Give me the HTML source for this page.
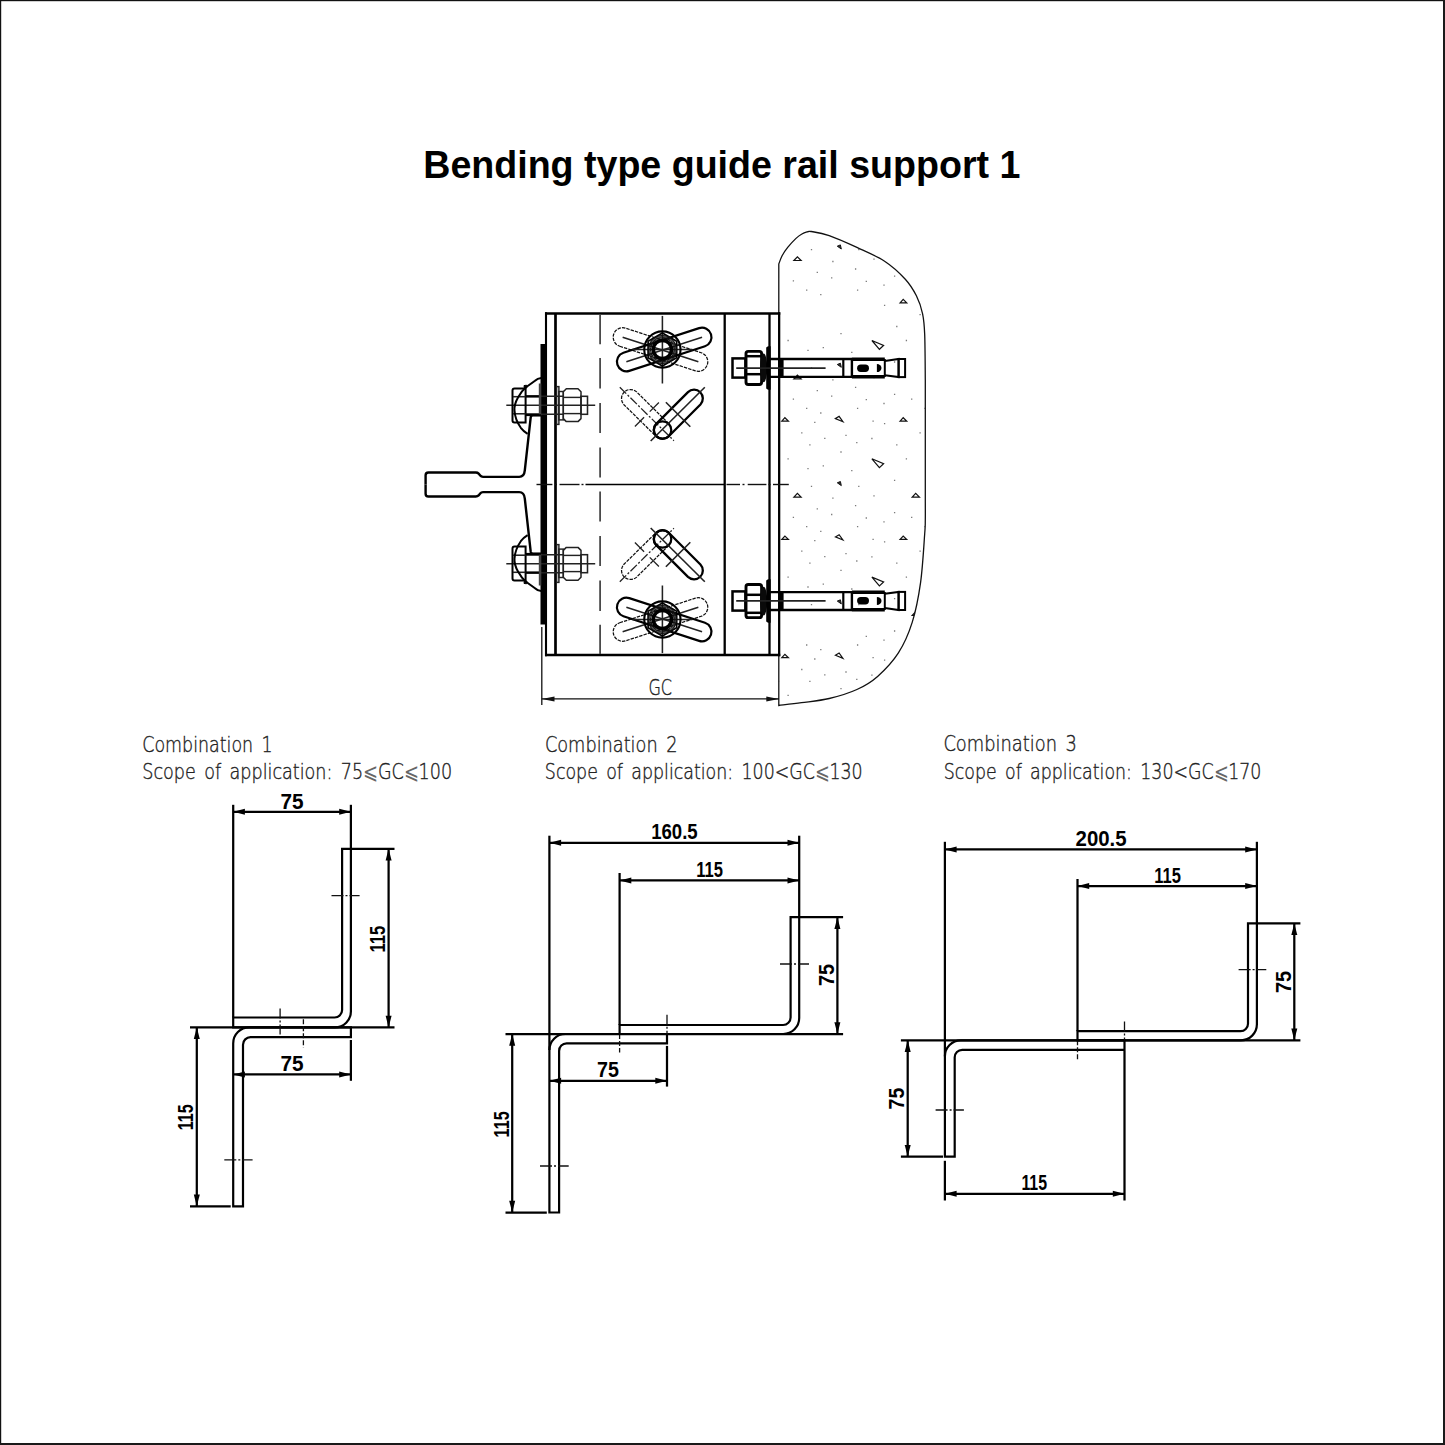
<!DOCTYPE html>
<html lang="en"><head><meta charset="utf-8"><title>Bending type guide rail support 1</title>
<style>html,body{margin:0;padding:0;background:#fff}body{width:1445px;height:1445px;overflow:hidden}svg{display:block}</style>
</head><body>
<svg width="1445" height="1445" viewBox="0 0 1445 1445">
<rect x="0" y="0" width="1445" height="1445" fill="#fff"/>
<rect x="0" y="0" width="1445" height="1.2" fill="#111"/><rect x="0" y="0" width="1.2" height="1445" fill="#111"/>
<rect x="1443" y="0" width="2" height="1445" fill="#1a1a1a"/><rect x="0" y="1443" width="1445" height="2" fill="#1a1a1a"/>
<text x="423.27" y="177.7" font-family="Liberation Sans, Arial, sans-serif" font-size="39" font-weight="bold" fill="#000" textLength="597.11" lengthAdjust="spacingAndGlyphs">Bending type guide rail support 1</text>
<clipPath id="cc"><path d="M778.8,705.5 L778.8,264 C779.35,262.62 780.62,258.47 782.1,255.7 C783.58,252.93 785.38,250.28 787.7,247.4 C790.02,244.52 793.7,240.6 796,238.4 C798.3,236.2 799.67,235.28 801.5,234.2 C803.33,233.12 805.38,232.35 807,231.9 C808.62,231.45 807.5,230.88 811.2,231.5 C814.9,232.12 821.58,232.95 829.2,235.6 C836.82,238.25 847.67,243.13 856.9,247.4 C866.13,251.67 876.53,255.9 884.6,261.2 C892.67,266.5 900,273.43 905.3,279.2 C910.6,284.97 913.52,290.03 916.4,295.8 C919.28,301.57 921.22,307.33 922.6,313.8 C923.98,320.27 924.25,323.57 924.7,334.6 C925.15,345.63 925.2,372.43 925.3,380 L925.3,500 C925.3,503.33 925.4,514.37 925.3,520 C925.2,525.63 925.48,523.42 924.7,533.8 C923.92,544.18 922.68,567.53 920.6,582.3 C918.52,597.07 915.9,610.63 912.2,622.4 C908.5,634.17 904.17,643.9 898.4,652.9 C892.63,661.9 884.52,670.3 877.6,676.4 C870.68,682.5 864.97,685.82 856.9,689.5 C848.83,693.18 838.43,696.3 829.2,698.5 C819.97,700.7 809.9,701.53 801.5,702.7 C793.1,703.87 782.58,705.03 778.8,705.5 Z"/></clipPath>
<g clip-path="url(#cc)">
<path d="M775.65,243.7h1.3 M775.65,276.1h1.3 M775.65,362h1.3 M775.65,394.4h1.3 M777.85,444.8h1.3 M775.65,480.3h1.3 M775.65,512.7h1.3 M777.85,563.1h1.3 M775.65,598.6h1.3 M777.85,681.4h1.3 M807.35,232.1h1.3 M822.65,229.3h1.3 M851.15,234.1h1.3 M893.95,243.7h1.3 M810.85,249.7h1.3 M858.15,249.7h1.3 M832.25,261.5h1.3 M873.35,259.2h1.3 M854.95,269h1.3 M816.65,272.3h1.3 M893.95,276.1h1.3 M831.05,277.9h1.3 M792.75,280.8h1.3 M865.65,281.4h1.3 M883.35,285.2h1.3 M806.05,290.1h1.3 M856.95,290.1h1.3 M820.15,294.7h1.3 M883.95,305.3h1.3 M896.15,326.5h1.3 M840.35,333.7h1.3 M787.45,340.5h1.3 M807.35,350.4h1.3 M822.65,347.6h1.3 M851.15,352.4h1.3 M893.95,362h1.3 M810.85,368h1.3 M858.15,368h1.3 M832.25,379.8h1.3 M873.35,377.5h1.3 M854.95,387.3h1.3 M816.65,390.6h1.3 M893.95,394.4h1.3 M831.05,396.2h1.3 M792.75,399.1h1.3 M865.65,399.7h1.3 M883.35,403.5h1.3 M806.05,408.4h1.3 M856.95,408.4h1.3 M820.15,413h1.3 M814.15,422.4h1.3 M872.45,421.1h1.3 M883.95,423.6h1.3 M801.15,432.9h1.3 M824.15,438.3h1.3 M845.35,435.4h1.3 M871.25,438.5h1.3 M809.25,444.8h1.3 M856.15,442.7h1.3 M896.15,444.8h1.3 M840.35,452h1.3 M787.45,458.8h1.3 M807.35,468.7h1.3 M822.65,465.9h1.3 M851.15,470.7h1.3 M893.95,480.3h1.3 M810.85,486.3h1.3 M858.15,486.3h1.3 M832.25,498.1h1.3 M873.35,495.8h1.3 M854.95,505.6h1.3 M816.65,508.9h1.3 M893.95,512.7h1.3 M831.05,514.5h1.3 M792.75,517.4h1.3 M865.65,518h1.3 M883.35,521.8h1.3 M806.05,526.7h1.3 M856.95,526.7h1.3 M820.15,531.3h1.3 M814.15,540.7h1.3 M872.45,539.4h1.3 M883.95,541.9h1.3 M801.15,551.2h1.3 M824.15,556.6h1.3 M845.35,553.7h1.3 M871.25,556.8h1.3 M809.25,563.1h1.3 M856.15,561h1.3 M896.15,563.1h1.3 M840.35,570.3h1.3 M787.45,577.1h1.3 M807.35,587h1.3 M822.65,584.2h1.3 M851.15,589h1.3 M893.95,598.6h1.3 M810.85,604.6h1.3 M858.15,604.6h1.3 M893.95,631h1.3 M865.65,636.3h1.3 M883.35,640.1h1.3 M806.05,645h1.3 M856.95,645h1.3 M820.15,649.6h1.3 M814.15,659h1.3 M872.45,657.7h1.3 M883.95,660.2h1.3 M801.15,669.5h1.3 M824.15,674.9h1.3 M845.35,672h1.3 M871.25,675.1h1.3 M809.25,681.4h1.3 M856.15,679.3h1.3 M896.15,681.4h1.3 M840.35,688.6h1.3 M787.45,695.4h1.3 M807.35,705.3h1.3 M822.65,702.5h1.3 M851.15,707.3h1.3 M925.65,232.1h1.3 M911.05,280.8h1.3 M924.35,290.1h1.3 M919.45,314.6h1.3 M905.75,340.5h1.3 M925.65,350.4h1.3 M911.05,399.1h1.3 M924.35,408.4h1.3 M919.45,432.9h1.3 M905.75,458.8h1.3 M925.65,468.7h1.3 M911.05,517.4h1.3 M924.35,526.7h1.3 M919.45,551.2h1.3 M905.75,577.1h1.3 M925.65,587h1.3 M911.05,635.7h1.3 M924.35,645h1.3 M919.45,669.5h1.3 M905.75,695.4h1.3 M925.65,705.3h1.3" stroke="#7a7a7a" stroke-width="1.3" fill="none"/>
<path d="M781.8,421.1 L784.9,417.7 L788.4,421.1 Z M900.1,421.1 L903.2,417.7 L906.7,421.1 Z M781.8,539.4 L784.9,536 L788.4,539.4 Z M900.1,539.4 L903.2,536 L906.7,539.4 Z M781.8,657.7 L784.9,654.3 L788.4,657.7 Z M900.1,302.8 L903.2,299.4 L906.7,302.8 Z M835.4,418.6 L839.1,416.4 L842.9,421.7 Z M835.4,536.9 L839.1,534.7 L842.9,540 Z M835.4,655.2 L839.1,653 L842.9,658.3 Z M871.9,340.5 L883.6,345.4 L879.4,349.3 Z M871.9,458.8 L883.6,463.7 L879.4,467.6 Z M871.9,577.1 L883.6,582 L879.4,585.9 Z M793.9,260.5 L797.4,256.8 L801.1,260.5 Z M793.9,378.8 L797.4,375.1 L801.1,378.8 Z M793.9,497.1 L797.4,493.4 L801.1,497.1 Z M912.2,497.1 L915.7,493.4 L919.4,497.1 Z M912.2,615.4 L915.7,611.7 L919.4,615.4 Z" stroke="#111" stroke-width="1.2" fill="none" stroke-linejoin="miter"/>
<path d="M837.3,246.2 L840.4,244.9 L841.3,249 Z M837.3,364.5 L840.4,363.2 L841.3,367.3 Z M837.3,482.8 L840.4,481.5 L841.3,485.6 Z M837.3,601.1 L840.4,599.8 L841.3,603.9 Z" stroke="#111" stroke-width="1" fill="#333"/>
</g>
<path d="M778.8,705.5 L778.8,264 C779.35,262.62 780.62,258.47 782.1,255.7 C783.58,252.93 785.38,250.28 787.7,247.4 C790.02,244.52 793.7,240.6 796,238.4 C798.3,236.2 799.67,235.28 801.5,234.2 C803.33,233.12 805.38,232.35 807,231.9 C808.62,231.45 807.5,230.88 811.2,231.5 C814.9,232.12 821.58,232.95 829.2,235.6 C836.82,238.25 847.67,243.13 856.9,247.4 C866.13,251.67 876.53,255.9 884.6,261.2 C892.67,266.5 900,273.43 905.3,279.2 C910.6,284.97 913.52,290.03 916.4,295.8 C919.28,301.57 921.22,307.33 922.6,313.8 C923.98,320.27 924.25,323.57 924.7,334.6 C925.15,345.63 925.2,372.43 925.3,380 L925.3,500 C925.3,503.33 925.4,514.37 925.3,520 C925.2,525.63 925.48,523.42 924.7,533.8 C923.92,544.18 922.68,567.53 920.6,582.3 C918.52,597.07 915.9,610.63 912.2,622.4 C908.5,634.17 904.17,643.9 898.4,652.9 C892.63,661.9 884.52,670.3 877.6,676.4 C870.68,682.5 864.97,685.82 856.9,689.5 C848.83,693.18 838.43,696.3 829.2,698.5 C819.97,700.7 809.9,701.53 801.5,702.7 C793.1,703.87 782.58,705.03 778.8,705.5 Z" fill="none" stroke="#111" stroke-width="1.3"/>
<line x1="546" y1="312.3" x2="546" y2="656.2" stroke="#000" stroke-width="2.1"/>
<line x1="545" y1="313.5" x2="780.3" y2="313.5" stroke="#000" stroke-width="2.6"/>
<line x1="545" y1="655" x2="780.3" y2="655" stroke="#000" stroke-width="2.6"/>
<line x1="779.2" y1="312.3" x2="779.2" y2="656.2" stroke="#000" stroke-width="2.2"/>
<rect x="540.5" y="344" width="6.5" height="280.5" rx="0" fill="#000" stroke="none" stroke-width="0"/>
<line x1="555.5" y1="313.5" x2="555.5" y2="655" stroke="#000" stroke-width="2.7"/>
<line x1="724.7" y1="313.5" x2="724.7" y2="655" stroke="#000" stroke-width="2.3"/>
<line x1="769.5" y1="313.5" x2="769.5" y2="655" stroke="#000" stroke-width="2.3"/>
<line x1="600.1" y1="315" x2="600.1" y2="344.3" stroke="#4a4a4a" stroke-width="1.8"/>
<line x1="600.1" y1="624.7" x2="600.1" y2="654" stroke="#4a4a4a" stroke-width="1.8"/>
<line x1="600.1" y1="358.1" x2="600.1" y2="388.6" stroke="#4a4a4a" stroke-width="1.8"/>
<line x1="600.1" y1="580.4" x2="600.1" y2="610.9" stroke="#4a4a4a" stroke-width="1.8"/>
<line x1="600.1" y1="403.1" x2="600.1" y2="432.9" stroke="#4a4a4a" stroke-width="1.8"/>
<line x1="600.1" y1="536.1" x2="600.1" y2="565.9" stroke="#4a4a4a" stroke-width="1.8"/>
<line x1="600.1" y1="447.4" x2="600.1" y2="477.4" stroke="#4a4a4a" stroke-width="1.8"/>
<line x1="600.1" y1="491.6" x2="600.1" y2="521.6" stroke="#4a4a4a" stroke-width="1.8"/>
<line x1="536.5" y1="484.5" x2="552.4" y2="484.5" stroke="#111" stroke-width="1.4"/>
<line x1="555" y1="484.5" x2="557" y2="484.5" stroke="#111" stroke-width="1.4"/>
<line x1="559.5" y1="484.5" x2="579.5" y2="484.5" stroke="#111" stroke-width="1.4"/>
<line x1="581.5" y1="484.5" x2="583.5" y2="484.5" stroke="#111" stroke-width="1.4"/>
<line x1="585.5" y1="484.5" x2="724.7" y2="484.5" stroke="#000" stroke-width="1.6"/>
<line x1="726.5" y1="484.5" x2="740" y2="484.5" stroke="#111" stroke-width="1.4"/>
<line x1="742.5" y1="484.5" x2="744.5" y2="484.5" stroke="#111" stroke-width="1.4"/>
<line x1="747.7" y1="484.5" x2="766.4" y2="484.5" stroke="#111" stroke-width="1.4"/>
<line x1="768.5" y1="484.5" x2="770.5" y2="484.5" stroke="#111" stroke-width="1.4"/>
<line x1="773" y1="484.5" x2="788.8" y2="484.5" stroke="#111" stroke-width="1.4"/>
<g><line x1="506.3" y1="405.3" x2="595.2" y2="405.3" stroke="#222" stroke-width="1.6"/>
<path d="M525.6,388.4 L514.5,388.4 Q512.5,388.4 512.5,390.4 L512.5,420.6 Q512.5,422.6 514.5,422.6 L525.6,422.6 Z" fill="none" stroke="#000" stroke-width="2"/>
<line x1="513" y1="396.7" x2="525.6" y2="396.7" stroke="#222" stroke-width="1.55"/>
<line x1="513" y1="413.8" x2="525.6" y2="413.8" stroke="#222" stroke-width="1.55"/>
<line x1="525.6" y1="396.2" x2="563.3" y2="396.2" stroke="#222" stroke-width="1.5"/>
<line x1="525.6" y1="414.3" x2="563.3" y2="414.3" stroke="#222" stroke-width="1.5"/>
<line x1="525.6" y1="396.4" x2="539" y2="396.4" stroke="#000" stroke-width="2.4"/>
<line x1="525.6" y1="414.8" x2="541" y2="414.8" stroke="#000" stroke-width="2.6"/>
<rect x="538.8" y="383.5" width="2.5" height="31.9" rx="0" fill="#444" stroke="none" stroke-width="0"/>
<path d="M541.2,378 Q537.5,378.3 535,380.8 L526,387.3 Q521.5,391 518,397.5 Q514,404.5 514.5,410.5 Q515,419.5 520.8,427.8 Q523.5,431.3 527.6,433.8" fill="none" stroke="#000" stroke-width="2"/>
<path d="M524,385.6 L526.5,385.2 L527,387.6 L524.4,388.4 Z" fill="#000" stroke="#000" stroke-width="1"/>
<rect x="556.6" y="386.6" width="2.3" height="37.8" rx="0" fill="none" stroke="#222" stroke-width="1.45"/>
<rect x="558.9" y="391.5" width="4.4" height="28.4" rx="0" fill="none" stroke="#222" stroke-width="1.45"/>
<path d="M566.3,388.7 L578,388.7 L581,391.7 L581,418.6 L578,421.6 L566.3,421.6 L563.3,418.6 L563.3,391.7 Z" fill="none" stroke="#222" stroke-width="1.5" stroke-linejoin="round"/>
<line x1="563.3" y1="397.4" x2="581" y2="397.4" stroke="#222" stroke-width="1.45"/>
<line x1="563.3" y1="413.6" x2="581" y2="413.6" stroke="#222" stroke-width="1.45"/>
<rect x="581" y="396.3" width="6.5" height="18" rx="0" fill="none" stroke="#222" stroke-width="1.55"/>
<path d="M541,415.4 L533,415.4 Q531,415.4 530.7,417.3 L524.8,470.4 Q524.2,476.9 519.2,476.9 L483,476.9 Q481.2,476.9 480.2,475.6 L478.6,473.6 Q477.6,472.5 475.8,472.5 L428.4,472.5 Q425.6,472.5 425.6,475.3 L425.6,484.6" fill="none" stroke="#000" stroke-width="2.4"/>
<path d="M619.71,346.24 L695.42,370.83 A9.5,9.5 0 0 0 701.29,352.76 L625.58,328.17 A9.5,9.5 0 0 0 619.71,346.24 Z" fill="none" stroke="#111" stroke-width="1.25" stroke-dasharray="3.4 1.1"/>
<line x1="622.65" y1="337.2" x2="698.35" y2="361.8" stroke="#222" stroke-width="1.6"/>
<path d="M629.28,370.83 L704.99,346.24 A9.5,9.5 0 0 0 699.12,328.17 L623.41,352.76 A9.5,9.5 0 0 0 629.28,370.83 Z" fill="none" stroke="#000" stroke-width="2.2"/>
<line x1="626.35" y1="361.8" x2="702.05" y2="337.2" stroke="#222" stroke-width="1.6"/>
<line x1="662.4" y1="315.9" x2="662.4" y2="383.5" stroke="#222" stroke-width="1.55"/>
<line x1="632.4" y1="349.5" x2="692.4" y2="349.5" stroke="#222" stroke-width="1.6"/>
<circle cx="662.4" cy="349.5" r="18.15" fill="none" stroke="#000" stroke-width="2.1"/>
<polygon points="662.4,366 648.11,357.75 648.11,341.25 662.4,333 676.69,341.25 676.69,357.75" fill="none" stroke="#000" stroke-width="1.7"/>
<circle cx="662.4" cy="349.5" r="14" fill="none" stroke="#111" stroke-width="1.2"/>
<circle cx="662.4" cy="349.5" r="11.8" fill="none" stroke="#111" stroke-width="1.1" stroke-dasharray="3.5 1.5"/>
<circle cx="662.4" cy="349.5" r="12.4" fill="none" stroke="#111" stroke-width="2.6" stroke-opacity="0.7"/>
<circle cx="662.4" cy="349.5" r="9.1" fill="none" stroke="#000" stroke-width="3.6"/>
<path d="M668.82,423.7 L636.62,391.9 A9,9 0 0 0 623.98,404.7 L656.18,436.5 A9,9 0 0 0 668.82,423.7 Z" fill="none" stroke="#111" stroke-width="1.25" stroke-dasharray="3.4 1.1"/>
<line x1="619.8" y1="387.3" x2="673.9" y2="440.7" stroke="#222" stroke-width="1.3" stroke-dasharray="9 2 2 2"/>
<line x1="634.9" y1="426.5" x2="658.9" y2="402.5" stroke="#222" stroke-width="1.3" stroke-dasharray="13 8 13"/>
<path d="M668.73,436.31 L700.43,404.51 A8.8,8.8 0 0 0 687.97,392.09 L656.27,423.89 A8.8,8.8 0 0 0 668.73,436.31 Z" fill="none" stroke="#000" stroke-width="2.3"/>
<circle cx="662.5" cy="430.1" r="8.8" fill="none" stroke="#000" stroke-width="2.2"/>
<line x1="650.7" y1="441" x2="704.8" y2="387.3" stroke="#222" stroke-width="1.6"/>
<line x1="665.9" y1="402.3" x2="690.3" y2="426.7" stroke="#222" stroke-width="1.6"/>
<rect x="732.5" y="358.4" width="12.9" height="19.2" rx="0" fill="none" stroke="#000" stroke-width="2.5"/>
<rect x="746" y="351.4" width="15.6" height="33.1" rx="2.2" fill="none" stroke="#000" stroke-width="2.9"/>
<line x1="746" y1="356.2" x2="761.6" y2="356.2" stroke="#000" stroke-width="2.5"/>
<line x1="746" y1="374.2" x2="761.6" y2="374.2" stroke="#000" stroke-width="2.5"/>
<ellipse cx="763.6" cy="367.9" rx="3.6" ry="14.4" fill="#0a0a0a"/>
<path d="M766.2,347.5 L768,346.2 L770.7,346.2 L770.7,389.8 L768,389.8 L766.2,388.5 Z" fill="#000" stroke="none" stroke-width="0"/>
<line x1="770" y1="359" x2="852" y2="359" stroke="#000" stroke-width="2.4"/>
<line x1="770" y1="376.9" x2="852" y2="376.9" stroke="#000" stroke-width="2.4"/>
<rect x="778.3" y="359" width="5.3" height="18" rx="0" fill="#000" stroke="none" stroke-width="0"/>
<line x1="736.2" y1="368.1" x2="825.6" y2="368.1" stroke="#222" stroke-width="1.6"/>
<line x1="843.3" y1="359" x2="843.3" y2="377" stroke="#000" stroke-width="2.2"/>
<line x1="851.9" y1="359" x2="851.9" y2="377" stroke="#000" stroke-width="2.4"/>
<line x1="851.9" y1="359.2" x2="884.8" y2="359.2" stroke="#000" stroke-width="3.6"/>
<line x1="851.9" y1="376.8" x2="884.8" y2="376.8" stroke="#000" stroke-width="3.6"/>
<rect x="857.1" y="364.5" width="11.9" height="7.4" rx="3.7" fill="#000" stroke="none" stroke-width="0"/>
<path d="M876.9,364.1 A4.6,4 0 0 1 876.9,372.1 Z" fill="#000" stroke="none" stroke-width="0"/>
<line x1="884.8" y1="359" x2="884.8" y2="377" stroke="#000" stroke-width="2"/>
<path d="M884.8,360.9 L898.6,359 L898.6,377.1 L884.8,375.2" fill="none" stroke="#000" stroke-width="2"/>
<rect x="898.6" y="359" width="6.5" height="18.1" rx="0" fill="none" stroke="#000" stroke-width="2"/></g>
<g transform="matrix(1 0 0 -1 0 969)"><line x1="506.3" y1="405.3" x2="595.2" y2="405.3" stroke="#222" stroke-width="1.6"/>
<path d="M525.6,388.4 L514.5,388.4 Q512.5,388.4 512.5,390.4 L512.5,420.6 Q512.5,422.6 514.5,422.6 L525.6,422.6 Z" fill="none" stroke="#000" stroke-width="2"/>
<line x1="513" y1="396.7" x2="525.6" y2="396.7" stroke="#222" stroke-width="1.55"/>
<line x1="513" y1="413.8" x2="525.6" y2="413.8" stroke="#222" stroke-width="1.55"/>
<line x1="525.6" y1="396.2" x2="563.3" y2="396.2" stroke="#222" stroke-width="1.5"/>
<line x1="525.6" y1="414.3" x2="563.3" y2="414.3" stroke="#222" stroke-width="1.5"/>
<line x1="525.6" y1="396.4" x2="539" y2="396.4" stroke="#000" stroke-width="2.4"/>
<line x1="525.6" y1="414.8" x2="541" y2="414.8" stroke="#000" stroke-width="2.6"/>
<rect x="538.8" y="383.5" width="2.5" height="31.9" rx="0" fill="#444" stroke="none" stroke-width="0"/>
<path d="M541.2,378 Q537.5,378.3 535,380.8 L526,387.3 Q521.5,391 518,397.5 Q514,404.5 514.5,410.5 Q515,419.5 520.8,427.8 Q523.5,431.3 527.6,433.8" fill="none" stroke="#000" stroke-width="2"/>
<path d="M524,385.6 L526.5,385.2 L527,387.6 L524.4,388.4 Z" fill="#000" stroke="#000" stroke-width="1"/>
<rect x="556.6" y="386.6" width="2.3" height="37.8" rx="0" fill="none" stroke="#222" stroke-width="1.45"/>
<rect x="558.9" y="391.5" width="4.4" height="28.4" rx="0" fill="none" stroke="#222" stroke-width="1.45"/>
<path d="M566.3,388.7 L578,388.7 L581,391.7 L581,418.6 L578,421.6 L566.3,421.6 L563.3,418.6 L563.3,391.7 Z" fill="none" stroke="#222" stroke-width="1.5" stroke-linejoin="round"/>
<line x1="563.3" y1="397.4" x2="581" y2="397.4" stroke="#222" stroke-width="1.45"/>
<line x1="563.3" y1="413.6" x2="581" y2="413.6" stroke="#222" stroke-width="1.45"/>
<rect x="581" y="396.3" width="6.5" height="18" rx="0" fill="none" stroke="#222" stroke-width="1.55"/>
<path d="M541,415.4 L533,415.4 Q531,415.4 530.7,417.3 L524.8,470.4 Q524.2,476.9 519.2,476.9 L483,476.9 Q481.2,476.9 480.2,475.6 L478.6,473.6 Q477.6,472.5 475.8,472.5 L428.4,472.5 Q425.6,472.5 425.6,475.3 L425.6,484.6" fill="none" stroke="#000" stroke-width="2.4"/>
<path d="M619.71,346.24 L695.42,370.83 A9.5,9.5 0 0 0 701.29,352.76 L625.58,328.17 A9.5,9.5 0 0 0 619.71,346.24 Z" fill="none" stroke="#111" stroke-width="1.25" stroke-dasharray="3.4 1.1"/>
<line x1="622.65" y1="337.2" x2="698.35" y2="361.8" stroke="#222" stroke-width="1.6"/>
<path d="M629.28,370.83 L704.99,346.24 A9.5,9.5 0 0 0 699.12,328.17 L623.41,352.76 A9.5,9.5 0 0 0 629.28,370.83 Z" fill="none" stroke="#000" stroke-width="2.2"/>
<line x1="626.35" y1="361.8" x2="702.05" y2="337.2" stroke="#222" stroke-width="1.6"/>
<line x1="662.4" y1="315.9" x2="662.4" y2="383.5" stroke="#222" stroke-width="1.55"/>
<line x1="632.4" y1="349.5" x2="692.4" y2="349.5" stroke="#222" stroke-width="1.6"/>
<circle cx="662.4" cy="349.5" r="18.15" fill="none" stroke="#000" stroke-width="2.1"/>
<polygon points="662.4,366 648.11,357.75 648.11,341.25 662.4,333 676.69,341.25 676.69,357.75" fill="none" stroke="#000" stroke-width="1.7"/>
<circle cx="662.4" cy="349.5" r="14" fill="none" stroke="#111" stroke-width="1.2"/>
<circle cx="662.4" cy="349.5" r="11.8" fill="none" stroke="#111" stroke-width="1.1" stroke-dasharray="3.5 1.5"/>
<circle cx="662.4" cy="349.5" r="12.4" fill="none" stroke="#111" stroke-width="2.6" stroke-opacity="0.7"/>
<circle cx="662.4" cy="349.5" r="9.1" fill="none" stroke="#000" stroke-width="3.6"/>
<path d="M668.82,423.7 L636.62,391.9 A9,9 0 0 0 623.98,404.7 L656.18,436.5 A9,9 0 0 0 668.82,423.7 Z" fill="none" stroke="#111" stroke-width="1.25" stroke-dasharray="3.4 1.1"/>
<line x1="619.8" y1="387.3" x2="673.9" y2="440.7" stroke="#222" stroke-width="1.3" stroke-dasharray="9 2 2 2"/>
<line x1="634.9" y1="426.5" x2="658.9" y2="402.5" stroke="#222" stroke-width="1.3" stroke-dasharray="13 8 13"/>
<path d="M668.73,436.31 L700.43,404.51 A8.8,8.8 0 0 0 687.97,392.09 L656.27,423.89 A8.8,8.8 0 0 0 668.73,436.31 Z" fill="none" stroke="#000" stroke-width="2.3"/>
<circle cx="662.5" cy="430.1" r="8.8" fill="none" stroke="#000" stroke-width="2.2"/>
<line x1="650.7" y1="441" x2="704.8" y2="387.3" stroke="#222" stroke-width="1.6"/>
<line x1="665.9" y1="402.3" x2="690.3" y2="426.7" stroke="#222" stroke-width="1.6"/>
<rect x="732.5" y="358.4" width="12.9" height="19.2" rx="0" fill="none" stroke="#000" stroke-width="2.5"/>
<rect x="746" y="351.4" width="15.6" height="33.1" rx="2.2" fill="none" stroke="#000" stroke-width="2.9"/>
<line x1="746" y1="356.2" x2="761.6" y2="356.2" stroke="#000" stroke-width="2.5"/>
<line x1="746" y1="374.2" x2="761.6" y2="374.2" stroke="#000" stroke-width="2.5"/>
<ellipse cx="763.6" cy="367.9" rx="3.6" ry="14.4" fill="#0a0a0a"/>
<path d="M766.2,347.5 L768,346.2 L770.7,346.2 L770.7,389.8 L768,389.8 L766.2,388.5 Z" fill="#000" stroke="none" stroke-width="0"/>
<line x1="770" y1="359" x2="852" y2="359" stroke="#000" stroke-width="2.4"/>
<line x1="770" y1="376.9" x2="852" y2="376.9" stroke="#000" stroke-width="2.4"/>
<rect x="778.3" y="359" width="5.3" height="18" rx="0" fill="#000" stroke="none" stroke-width="0"/>
<line x1="736.2" y1="368.1" x2="825.6" y2="368.1" stroke="#222" stroke-width="1.6"/>
<line x1="843.3" y1="359" x2="843.3" y2="377" stroke="#000" stroke-width="2.2"/>
<line x1="851.9" y1="359" x2="851.9" y2="377" stroke="#000" stroke-width="2.4"/>
<line x1="851.9" y1="359.2" x2="884.8" y2="359.2" stroke="#000" stroke-width="3.6"/>
<line x1="851.9" y1="376.8" x2="884.8" y2="376.8" stroke="#000" stroke-width="3.6"/>
<rect x="857.1" y="364.5" width="11.9" height="7.4" rx="3.7" fill="#000" stroke="none" stroke-width="0"/>
<path d="M876.9,364.1 A4.6,4 0 0 1 876.9,372.1 Z" fill="#000" stroke="none" stroke-width="0"/>
<line x1="884.8" y1="359" x2="884.8" y2="377" stroke="#000" stroke-width="2"/>
<path d="M884.8,360.9 L898.6,359 L898.6,377.1 L884.8,375.2" fill="none" stroke="#000" stroke-width="2"/>
<rect x="898.6" y="359" width="6.5" height="18.1" rx="0" fill="none" stroke="#000" stroke-width="2"/></g>
<line x1="541.8" y1="627" x2="541.8" y2="705" stroke="#111" stroke-width="1.3"/>
<line x1="541.8" y1="698.9" x2="779" y2="698.9" stroke="#111" stroke-width="1.35"/><polygon points="541.8,698.9 554.5,696.4 554.5,701.4" fill="#111"/><polygon points="779,698.9 766.3,701.4 766.3,696.4" fill="#111"/>
<text x="648.48" y="695.17" stroke="#222" stroke-width="0.4" word-spacing="3.5" font-family="DejaVu Sans Light, DejaVu Sans, Liberation Sans, sans-serif" font-size="21.7" font-weight="200" fill="#222" textLength="23.57" lengthAdjust="spacingAndGlyphs">GC</text>
<text x="142.27" y="751.65" stroke="#222" stroke-width="0.4" word-spacing="3.5" font-family="DejaVu Sans Light, DejaVu Sans, Liberation Sans, sans-serif" font-size="21.5" font-weight="200" fill="#222" textLength="130.33" lengthAdjust="spacingAndGlyphs">Combination 1</text>
<text x="142.27" y="778.75" stroke="#222" stroke-width="0.4" word-spacing="3.5" font-family="DejaVu Sans Light, DejaVu Sans, Liberation Sans, sans-serif" font-size="21.5" font-weight="200" fill="#222" textLength="309.8" lengthAdjust="spacingAndGlyphs">Scope of application: 75<tspan fill="#666" stroke="none">⩽</tspan>GC<tspan fill="#666" stroke="none">⩽</tspan>100</text>
<text x="544.89" y="751.65" stroke="#222" stroke-width="0.4" word-spacing="3.5" font-family="DejaVu Sans Light, DejaVu Sans, Liberation Sans, sans-serif" font-size="21.5" font-weight="200" fill="#222" textLength="132.55" lengthAdjust="spacingAndGlyphs">Combination 2</text>
<text x="544.87" y="778.95" stroke="#222" stroke-width="0.4" word-spacing="3.5" font-family="DejaVu Sans Light, DejaVu Sans, Liberation Sans, sans-serif" font-size="21.5" font-weight="200" fill="#222" textLength="317.82" lengthAdjust="spacingAndGlyphs">Scope of application: 100&lt;GC<tspan fill="#666" stroke="none">⩽</tspan>130</text>
<text x="943.39" y="751.17" stroke="#222" stroke-width="0.4" word-spacing="3.5" font-family="DejaVu Sans Light, DejaVu Sans, Liberation Sans, sans-serif" font-size="21.5" font-weight="200" fill="#222" textLength="133.59" lengthAdjust="spacingAndGlyphs">Combination 3</text>
<text x="943.67" y="778.57" stroke="#222" stroke-width="0.4" word-spacing="3.5" font-family="DejaVu Sans Light, DejaVu Sans, Liberation Sans, sans-serif" font-size="21.5" font-weight="200" fill="#222" textLength="317.76" lengthAdjust="spacingAndGlyphs">Scope of application: 130&lt;GC<tspan fill="#666" stroke="none">⩽</tspan>170</text>
<path d="M342.1,848.8 L350.9,848.8 L350.9,1011.4 A16,16 0 0 1 334.9,1027.4 L233.2,1027.4 L233.2,1017.5 L334.6,1017.5 A7.5,7.5 0 0 0 342.1,1010 Z" fill="none" stroke="#000" stroke-width="2.2" stroke-linejoin="miter"/>
<path d="M350.9,1027.4 L350.9,1037.2 L250.5,1037.2 A7.5,7.5 0 0 0 243,1044.7 L243,1206.3 L233.2,1206.3 L233.2,1043.4 A16,16 0 0 1 249.2,1027.4 Z" fill="none" stroke="#000" stroke-width="2.2" stroke-linejoin="miter"/>
<line x1="233.2" y1="804.8" x2="233.2" y2="1017.5" stroke="#000" stroke-width="2.25"/>
<line x1="350.9" y1="804.8" x2="350.9" y2="848.8" stroke="#000" stroke-width="2.25"/>
<line x1="233.2" y1="811.8" x2="350.9" y2="811.8" stroke="#000" stroke-width="2.25"/><polygon points="233.2,811.8 244.9,808.8 244.9,814.8" fill="#000"/><polygon points="350.9,811.8 339.2,814.8 339.2,808.8" fill="#000"/>
<text x="280.56" y="808.5" font-family="Liberation Sans, Arial, sans-serif" font-size="22.8" font-weight="bold" fill="#000" textLength="23.09" lengthAdjust="spacingAndGlyphs">75</text>
<line x1="351.8" y1="848.8" x2="394.5" y2="848.8" stroke="#000" stroke-width="2.25"/>
<line x1="190" y1="1027.4" x2="394.5" y2="1027.4" stroke="#000" stroke-width="2.25"/>
<line x1="388.6" y1="848.8" x2="388.6" y2="1027.4" stroke="#000" stroke-width="2.25"/><polygon points="388.6,848.8 391.6,860.5 385.6,860.5" fill="#000"/><polygon points="388.6,1027.4 385.6,1015.7 391.6,1015.7" fill="#000"/>
<text x="385" y="952.53" font-family="Liberation Sans, Arial, sans-serif" font-size="22.8" font-weight="bold" fill="#000" textLength="26.8" lengthAdjust="spacingAndGlyphs" transform="rotate(-90 385 952.53)">115</text>
<line x1="331.5" y1="895.7" x2="359.6" y2="895.7" stroke="#111" stroke-width="1.3" stroke-dasharray="12 2 2 2"/>
<line x1="280.1" y1="1008.6" x2="280.1" y2="1036.7" stroke="#111" stroke-width="1.3" stroke-dasharray="10 2 2 2"/>
<line x1="303.4" y1="1019.3" x2="303.4" y2="1047.4" stroke="#111" stroke-width="1.3" stroke-dasharray="5 2"/>
<line x1="350.9" y1="1040" x2="350.9" y2="1080.8" stroke="#000" stroke-width="2.25"/>
<line x1="233.2" y1="1074.4" x2="350.9" y2="1074.4" stroke="#000" stroke-width="2.25"/><polygon points="233.2,1074.4 244.9,1071.4 244.9,1077.4" fill="#000"/><polygon points="350.9,1074.4 339.2,1077.4 339.2,1071.4" fill="#000"/>
<text x="280.56" y="1071" font-family="Liberation Sans, Arial, sans-serif" font-size="22.8" font-weight="bold" fill="#000" textLength="23.09" lengthAdjust="spacingAndGlyphs">75</text>
<line x1="196.8" y1="1027.4" x2="196.8" y2="1206.3" stroke="#000" stroke-width="2.25"/><polygon points="196.8,1027.4 199.8,1039.1 193.8,1039.1" fill="#000"/><polygon points="196.8,1206.3 193.8,1194.6 199.8,1194.6" fill="#000"/>
<line x1="190" y1="1206.3" x2="230.7" y2="1206.3" stroke="#000" stroke-width="2.25"/>
<text x="193" y="1130.25" font-family="Liberation Sans, Arial, sans-serif" font-size="22.8" font-weight="bold" fill="#000" textLength="25.81" lengthAdjust="spacingAndGlyphs" transform="rotate(-90 193 1130.25)">115</text>
<line x1="224.3" y1="1159.8" x2="252.6" y2="1159.8" stroke="#111" stroke-width="1.3" stroke-dasharray="12 2 2 2"/>
<path d="M790.6,917.2 L799.2,917.2 L799.2,1018 A16,16 0 0 1 783.2,1034 L619.6,1034 L619.6,1025 L783.1,1025 A7.5,7.5 0 0 0 790.6,1017.5 Z" fill="none" stroke="#000" stroke-width="2.2" stroke-linejoin="miter"/>
<path d="M667,1034 L667,1043.4 L566.6,1043.4 A7.5,7.5 0 0 0 559.1,1050.9 L559.1,1212.5 L549.4,1212.5 L549.4,1050 A16,16 0 0 1 565.4,1034 Z" fill="none" stroke="#000" stroke-width="2.2" stroke-linejoin="miter"/>
<line x1="549.4" y1="835.7" x2="549.4" y2="1050" stroke="#000" stroke-width="2.25"/>
<line x1="799.2" y1="835.7" x2="799.2" y2="917.2" stroke="#000" stroke-width="2.25"/>
<line x1="549.4" y1="842.8" x2="799.2" y2="842.8" stroke="#000" stroke-width="2.25"/><polygon points="549.4,842.8 561.1,839.8 561.1,845.8" fill="#000"/><polygon points="799.2,842.8 787.5,845.8 787.5,839.8" fill="#000"/>
<text x="651.16" y="839" font-family="Liberation Sans, Arial, sans-serif" font-size="22.8" font-weight="bold" fill="#000" textLength="46.47" lengthAdjust="spacingAndGlyphs">160.5</text>
<line x1="619.6" y1="873" x2="619.6" y2="1025" stroke="#000" stroke-width="2.25"/>
<line x1="619.6" y1="1034" x2="619.6" y2="1052.6" stroke="#111" stroke-width="1.3" stroke-dasharray="5 2"/>
<line x1="619.6" y1="880.4" x2="799.2" y2="880.4" stroke="#000" stroke-width="2.25"/><polygon points="619.6,880.4 631.3,877.4 631.3,883.4" fill="#000"/><polygon points="799.2,880.4 787.5,883.4 787.5,877.4" fill="#000"/>
<text x="696.18" y="876.5" font-family="Liberation Sans, Arial, sans-serif" font-size="22.8" font-weight="bold" fill="#000" textLength="26.68" lengthAdjust="spacingAndGlyphs">115</text>
<line x1="799.8" y1="917.2" x2="843.1" y2="917.2" stroke="#000" stroke-width="2.25"/>
<line x1="505.5" y1="1034" x2="843.1" y2="1034" stroke="#000" stroke-width="2.25"/>
<line x1="837.4" y1="917.2" x2="837.4" y2="1034" stroke="#000" stroke-width="2.25"/><polygon points="837.4,917.2 840.4,928.9 834.4,928.9" fill="#000"/><polygon points="837.4,1034 834.4,1022.3 840.4,1022.3" fill="#000"/>
<text x="834" y="986.1" font-family="Liberation Sans, Arial, sans-serif" font-size="22.8" font-weight="bold" fill="#000" textLength="22.12" lengthAdjust="spacingAndGlyphs" transform="rotate(-90 834 986.1)">75</text>
<line x1="780" y1="964" x2="809" y2="964" stroke="#111" stroke-width="1.3" stroke-dasharray="12 2 2 2"/>
<line x1="667" y1="1014.8" x2="667" y2="1034" stroke="#111" stroke-width="1.3" stroke-dasharray="10 2 2 2"/>
<line x1="667" y1="1045.9" x2="667" y2="1086.6" stroke="#000" stroke-width="2.25"/>
<line x1="549.4" y1="1080.8" x2="667" y2="1080.8" stroke="#000" stroke-width="2.25"/><polygon points="549.4,1080.8 561.1,1077.8 561.1,1083.8" fill="#000"/><polygon points="667,1080.8 655.3,1083.8 655.3,1077.8" fill="#000"/>
<text x="597" y="1076.5" font-family="Liberation Sans, Arial, sans-serif" font-size="22.8" font-weight="bold" fill="#000" textLength="21.87" lengthAdjust="spacingAndGlyphs">75</text>
<line x1="512.2" y1="1034" x2="512.2" y2="1212.5" stroke="#000" stroke-width="2.25"/><polygon points="512.2,1034 515.2,1045.7 509.2,1045.7" fill="#000"/><polygon points="512.2,1212.5 509.2,1200.8 515.2,1200.8" fill="#000"/>
<line x1="505.5" y1="1212.5" x2="546.8" y2="1212.5" stroke="#000" stroke-width="2.25"/>
<text x="509" y="1137.42" font-family="Liberation Sans, Arial, sans-serif" font-size="22.8" font-weight="bold" fill="#000" textLength="26.19" lengthAdjust="spacingAndGlyphs" transform="rotate(-90 509 1137.42)">115</text>
<line x1="540" y1="1166" x2="568.7" y2="1166" stroke="#111" stroke-width="1.3" stroke-dasharray="12 2 2 2"/>
<path d="M1248,923.4 L1256.9,923.4 L1256.9,1024.3 A16,16 0 0 1 1240.9,1040.3 L1077.5,1040.3 L1077.5,1031.2 L1240.5,1031.2 A7.5,7.5 0 0 0 1248,1023.7 Z" fill="none" stroke="#000" stroke-width="2.2" stroke-linejoin="miter"/>
<path d="M1124.5,1040.3 L1124.5,1049.8 L962.2,1049.8 A7.5,7.5 0 0 0 954.7,1057.3 L954.7,1156.6 L944.9,1156.6 L944.9,1056.3 A16,16 0 0 1 960.9,1040.3 Z" fill="none" stroke="#000" stroke-width="2.2" stroke-linejoin="miter"/>
<line x1="944.9" y1="841.8" x2="944.9" y2="1056.3" stroke="#000" stroke-width="2.25"/>
<line x1="1256.9" y1="841.8" x2="1256.9" y2="923.4" stroke="#000" stroke-width="2.25"/>
<line x1="944.9" y1="849.4" x2="1256.9" y2="849.4" stroke="#000" stroke-width="2.25"/><polygon points="944.9,849.4 956.6,846.4 956.6,852.4" fill="#000"/><polygon points="1256.9,849.4 1245.2,852.4 1245.2,846.4" fill="#000"/>
<text x="1075.61" y="846" font-family="Liberation Sans, Arial, sans-serif" font-size="22.8" font-weight="bold" fill="#000" textLength="50.98" lengthAdjust="spacingAndGlyphs">200.5</text>
<line x1="1077.5" y1="879" x2="1077.5" y2="1031.2" stroke="#000" stroke-width="2.25"/>
<line x1="1077.5" y1="1040.3" x2="1077.5" y2="1059.3" stroke="#111" stroke-width="1.3" stroke-dasharray="5 2"/>
<line x1="1077.5" y1="886" x2="1256.9" y2="886" stroke="#000" stroke-width="2.25"/><polygon points="1077.5,886 1089.2,883 1089.2,889" fill="#000"/><polygon points="1256.9,886 1245.2,889 1245.2,883" fill="#000"/>
<text x="1154.19" y="882.5" font-family="Liberation Sans, Arial, sans-serif" font-size="22.8" font-weight="bold" fill="#000" textLength="26.63" lengthAdjust="spacingAndGlyphs">115</text>
<line x1="1257.8" y1="923.4" x2="1300.4" y2="923.4" stroke="#000" stroke-width="2.25"/>
<line x1="900.9" y1="1040.3" x2="1300.4" y2="1040.3" stroke="#000" stroke-width="2.25"/>
<line x1="1294.3" y1="923.4" x2="1294.3" y2="1040.3" stroke="#000" stroke-width="2.25"/><polygon points="1294.3,923.4 1297.3,935.1 1291.3,935.1" fill="#000"/><polygon points="1294.3,1040.3 1291.3,1028.6 1297.3,1028.6" fill="#000"/>
<text x="1290.5" y="993" font-family="Liberation Sans, Arial, sans-serif" font-size="22.8" font-weight="bold" fill="#000" textLength="22.24" lengthAdjust="spacingAndGlyphs" transform="rotate(-90 1290.5 993)">75</text>
<line x1="1238.6" y1="969.7" x2="1266.3" y2="969.7" stroke="#111" stroke-width="1.3" stroke-dasharray="12 2 2 2"/>
<line x1="1124.5" y1="1021.4" x2="1124.5" y2="1040.3" stroke="#111" stroke-width="1.3" stroke-dasharray="10 2 2 2"/>
<line x1="1124.5" y1="1051" x2="1124.5" y2="1200.5" stroke="#000" stroke-width="2.25"/>
<line x1="907.7" y1="1040.3" x2="907.7" y2="1156.6" stroke="#000" stroke-width="2.25"/><polygon points="907.7,1040.3 910.7,1052 904.7,1052" fill="#000"/><polygon points="907.7,1156.6 904.7,1144.9 910.7,1144.9" fill="#000"/>
<line x1="900.9" y1="1156.6" x2="943" y2="1156.6" stroke="#000" stroke-width="2.25"/>
<text x="904" y="1109.38" font-family="Liberation Sans, Arial, sans-serif" font-size="22.8" font-weight="bold" fill="#000" textLength="21.65" lengthAdjust="spacingAndGlyphs" transform="rotate(-90 904 1109.38)">75</text>
<line x1="935.6" y1="1110" x2="963.9" y2="1110" stroke="#111" stroke-width="1.3" stroke-dasharray="12 2 2 2"/>
<line x1="944.9" y1="1160.8" x2="944.9" y2="1200.5" stroke="#000" stroke-width="2.25"/>
<line x1="944.9" y1="1193.8" x2="1124.5" y2="1193.8" stroke="#000" stroke-width="2.25"/><polygon points="944.9,1193.8 956.6,1190.8 956.6,1196.8" fill="#000"/><polygon points="1124.5,1193.8 1112.8,1196.8 1112.8,1190.8" fill="#000"/>
<text x="1021.38" y="1190" font-family="Liberation Sans, Arial, sans-serif" font-size="22.8" font-weight="bold" fill="#000" textLength="25.62" lengthAdjust="spacingAndGlyphs">115</text>
</svg>
</body></html>
